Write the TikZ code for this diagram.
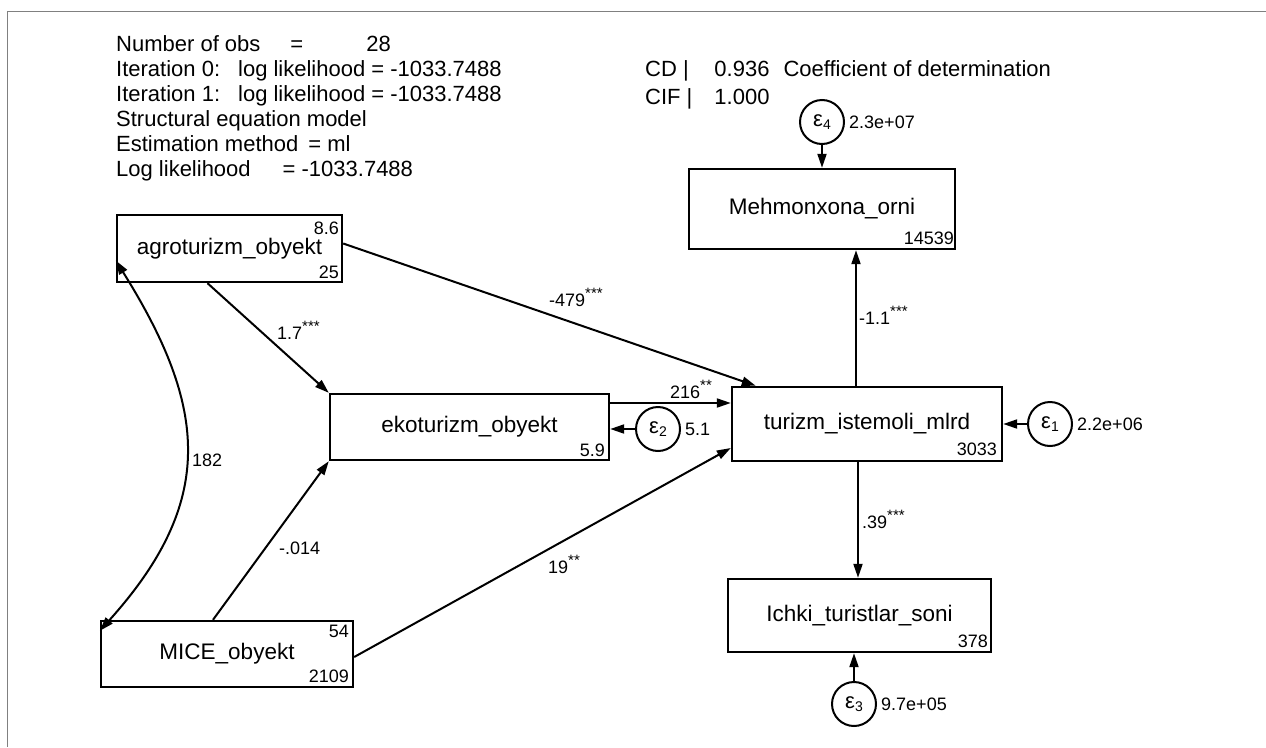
\documentclass[tikz,border=0pt]{standalone}
\usepackage{fontspec}
\setmainfont{Liberation Sans}
\usetikzlibrary{arrows.meta, positioning, calc}

\newcommand{\coef}[2]{#1\raisebox{8pt}{\fontsize{15}{15}\selectfont #2}}
\newcommand{\eps}[1]{ε\raisebox{-3pt}{\fontsize{14}{14}\selectfont #1}}

\tikzset{
  var/.style={draw, line width=2.4pt, inner sep=0pt, font=\fontsize{22.5}{22.5}\selectfont},
  err/.style={draw, circle, line width=2pt, inner sep=0pt, minimum size=44pt, font=\fontsize{22}{22}\selectfont},
  num/.style={inner sep=0pt, font=\fontsize{18}{18}\selectfont},
  path/.style={line width=2pt, -{Triangle[length=14pt,width=9pt]}},
  info/.style={inner sep=0pt, align=left, font=\fontsize{22}{25}\selectfont}
}

\begin{document}
\begin{tikzpicture}[x=1pt, y=-1pt]
\useasboundingbox (0,0) rectangle (1266,747);
\draw[gray, line width=1pt] (1266,11) -- (7,11) -- (7,747);

% header text
\node[info, anchor=north west] (fit) at (116,35) {Number of obs\hspace{30pt}=\hspace{63pt}28\\
Iteration 0:\hspace{18pt}log likelihood = -1033.7488\\
Iteration 1:\hspace{18pt}log likelihood = -1033.7488\\
Structural equation model\\
Estimation method\hspace{10pt}= ml\\
Log likelihood\hspace{32pt}= -1033.7488};
\node[info, anchor=north west] (cd) at (645,58.5) {\begin{tabular}{@{}l@{\hspace{22pt}}r@{\hspace{14pt}}l@{}}
CD | & 0.936 & Coefficient of determination\\[3pt]
CIF | & 1.000 &
\end{tabular}};

% observed variables
\node[var, minimum width=225pt, minimum height=67pt] (agro) at (229.5,248.5) {agroturizm\_obyekt};
\node[var, minimum width=279pt, minimum height=66pt] (eko) at (469.5,427) {ekoturizm\_obyekt};
\node[var, minimum width=252pt, minimum height=66pt] (mice) at (227,654) {MICE\_obyekt};
\node[var, minimum width=270pt, minimum height=74pt] (turizm) at (867,424) {turizm\_istemoli\_mlrd};
\node[var, minimum width=266pt, minimum height=80pt] (mehmon) at (822,209) {Mehmonxona\_orni};
\node[var, minimum width=263pt, minimum height=73pt] (ichki) at (859.5,615.5) {Ichki\_turistlar\_soni};

% means and intercepts
\node[num, anchor=east] (agro-v) at ([shift={(-4pt,-14pt)}]agro.north east) {8.6};
\node[num, anchor=east] (agro-m) at ([shift={(-4pt,11pt)}]agro.south east) {25};
\node[num, anchor=east] (eko-m) at ([shift={(-5pt,11pt)}]eko.south east) {5.9};
\node[num, anchor=east] (mice-v) at ([shift={(-5pt,-12pt)}]mice.north east) {54};
\node[num, anchor=east] (mice-m) at ([shift={(-5pt,12pt)}]mice.south east) {2109};
\node[num, anchor=east] (turizm-m) at ([shift={(-6pt,13pt)}]turizm.south east) {3033};
\node[num, anchor=east] (mehmon-m) at ([shift={(-2pt,12pt)}]mehmon.south east) {14539};
\node[num, anchor=east] (ichki-m) at ([shift={(-4pt,12pt)}]ichki.south east) {378};

% error terms
\node[err] (e1) at (1050,424) {\eps{1}};
\node[err] (e2) at (658,429) {\eps{2}};
\node[err] (e3) at (854,704) {\eps{3}};
\node[err] (e4) at (822,122) {\eps{4}};
\node[num, right=4pt of e1] (e1-v) {2.2e+06};
\node[num, right=4pt of e2] (e2-v) {5.1};
\node[num, right=4pt of e3] (e3-v) {9.7e+05};
\node[num, right=4pt of e4] (e4-v) {2.3e+07};

% paths
\draw[path] ([yshift=5pt]agro.east) -- ([xshift=25pt]turizm.north west);
\draw[path] ([xshift=-22pt]agro.south) -- (eko.north west);
\draw[path] ([xshift=-14pt]mice.north) -- (eko.south west);
\draw[path] ([yshift=-3pt]mice.east) -- ([yshift=-24pt]turizm.west);
\coordinate (eko-out) at ([yshift=24pt]eko.east);
\draw[path] (eko-out) -- (eko-out -| turizm.west);
\coordinate (turizm-up) at ([xshift=-11pt]turizm.north);
\draw[path] (turizm-up) -- (turizm-up |- mehmon.south);
\coordinate (turizm-dn) at ([xshift=-9pt]turizm.south);
\draw[path] (turizm-dn) -- (turizm-dn |- ichki.north);
\draw[path] (e1) -- (e1 -| turizm.east);
\draw[path] (e2) -- (e2 -| eko.east);
\draw[path] (e3) -- (e3 |- ichki.south);
\draw[path] (e4) -- (e4 |- mehmon.north);
\draw[line width=2pt, {Triangle[length=14pt,width=9pt]}-{Triangle[length=14pt,width=9pt]}]
  ([yshift=-12pt]agro.west) to[out=-58, in=48, looseness=1.2] ([yshift=-11pt]mice.north west);

% coefficients
\node[num, anchor=base west] (c1) at (277,339) {\coef{1.7}{***}};
\node[num, anchor=base west] (c2) at (549,306) {\coef{-479}{***}};
\node[num, anchor=base west] (c3) at (670,398) {\coef{216}{**}};
\node[num, anchor=base west] (c4) at (279,554) {-.014};
\node[num, anchor=base west] (c5) at (548,573) {\coef{19}{**}};
\node[num, anchor=base west] (c6) at (192,466) {182};
\node[num, anchor=base west] (c7) at (859,324) {\coef{-1.1}{***}};
\node[num, anchor=base west] (c8) at (862,528) {\coef{.39}{***}};
\end{tikzpicture}
\end{document}
